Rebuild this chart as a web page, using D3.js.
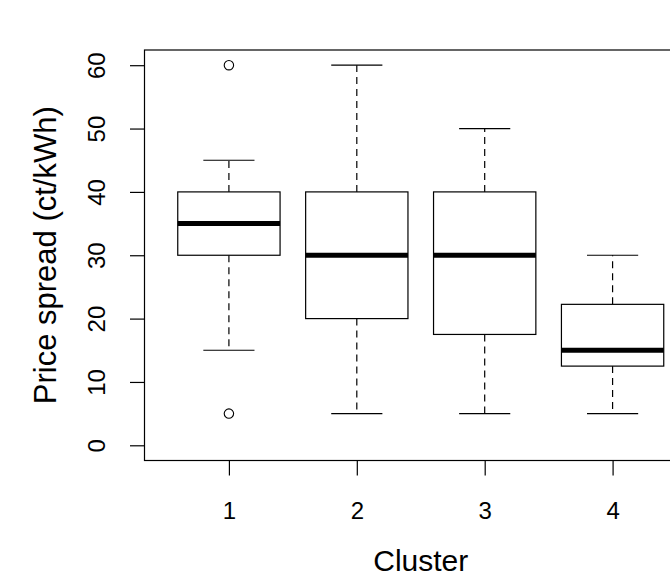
<!DOCTYPE html>
<html>
<head>
<meta charset="utf-8">
<script src="https://cdn.jsdelivr.net/npm/d3@7"></script>
<style>
  html, body { margin: 0; padding: 0; background: #fff; }
  svg { display: block; }
  text { font-family: "Liberation Sans", Arial, sans-serif; fill: #000; }
</style>
</head>
<body>
<svg id="chart" width="670" height="576"></svg>
<script>
// ---- data ----
const categories = ["1", "2", "3", "4"];
const whiskerLow  = [15, 5, 5, 5];
const q1          = [30, 20, 17.5, 12.5];
const medians     = [35, 30, 30, 15];
const q3          = [40, 40, 40, 22.25];
const whiskerHigh = [45, 60, 50, 30];
const outliers    = [[60, 5], [], [], []];
const yTicks      = [0, 10, 20, 30, 40, 50, 60];
const xTitle = "Cluster";
const yTitle = "Price spread (ct/kWh)";

// ---- layout ----
const svg = d3.select("#chart");
const plot = { left: 144.5, right: 697, top: 50, bottom: 460.5 };

const x = d3.scaleLinear().domain([0.5 - 0.16, 4.5 + 0.16]).range([plot.left, plot.right]);
const y = d3.scaleLinear().domain([-2.4, 62.4]).range([plot.bottom, plot.top]);
const boxHalf = 0.4 * (x(2) - x(1));
const capHalf = boxHalf / 2;

const g = svg.append("g");

// frame
g.append("rect")
  .attr("x", plot.left).attr("y", plot.top)
  .attr("width", plot.right - plot.left).attr("height", plot.bottom - plot.top)
  .attr("fill", "none").attr("stroke", "#000").attr("stroke-width", 1.2);

// y axis
const yAxis = d3.axisLeft(y).tickValues(yTicks).tickSize(14.5).tickFormat(d3.format("d"));
const ya = g.append("g").attr("transform", `translate(${plot.left},0)`).call(yAxis);
ya.select(".domain").remove();
ya.selectAll(".tick line").attr("stroke", "#000").attr("stroke-width", 1.2);
ya.selectAll(".tick text")
  .attr("x", 0).attr("y", 0).attr("dy", 0)
  .attr("transform", "translate(-40,0) rotate(-90)")
  .attr("text-anchor", "middle")
  .style("font-size", "24px")
  .style("font-family", "'Liberation Sans', Arial, sans-serif")
  .attr("fill", "#000");

// x axis
const xAxis = d3.axisBottom(x).tickValues([1, 2, 3, 4]).tickSize(15).tickFormat((d) => categories[d - 1]);
const xa = g.append("g").attr("transform", `translate(0,${plot.bottom})`).call(xAxis);
xa.select(".domain").remove();
xa.selectAll(".tick line").attr("stroke", "#000").attr("stroke-width", 1.2);
xa.selectAll(".tick text")
  .attr("y", 58).attr("dy", 0)
  .style("font-size", "24px")
  .style("font-family", "'Liberation Sans', Arial, sans-serif")
  .attr("fill", "#000");

// boxes
const idx = d3.range(categories.length);
const boxes = g.append("g").selectAll("g").data(idx).join("g");

boxes.append("line") // upper whisker
  .attr("x1", (i) => x(i + 1)).attr("x2", (i) => x(i + 1))
  .attr("y1", (i) => y(q3[i])).attr("y2", (i) => y(whiskerHigh[i]))
  .attr("stroke", "#000").attr("stroke-width", 1.2).attr("stroke-dasharray", "7,5");
boxes.append("line") // lower whisker
  .attr("x1", (i) => x(i + 1)).attr("x2", (i) => x(i + 1))
  .attr("y1", (i) => y(q1[i])).attr("y2", (i) => y(whiskerLow[i]))
  .attr("stroke", "#000").attr("stroke-width", 1.2).attr("stroke-dasharray", "7,5");
boxes.append("line") // upper cap
  .attr("x1", (i) => x(i + 1) - capHalf).attr("x2", (i) => x(i + 1) + capHalf)
  .attr("y1", (i) => y(whiskerHigh[i])).attr("y2", (i) => y(whiskerHigh[i]))
  .attr("stroke", "#000").attr("stroke-width", 1.2);
boxes.append("line") // lower cap
  .attr("x1", (i) => x(i + 1) - capHalf).attr("x2", (i) => x(i + 1) + capHalf)
  .attr("y1", (i) => y(whiskerLow[i])).attr("y2", (i) => y(whiskerLow[i]))
  .attr("stroke", "#000").attr("stroke-width", 1.2);
boxes.append("rect")
  .attr("x", (i) => x(i + 1) - boxHalf).attr("width", 2 * boxHalf)
  .attr("y", (i) => y(q3[i])).attr("height", (i) => y(q1[i]) - y(q3[i]))
  .attr("fill", "#fff").attr("stroke", "#000").attr("stroke-width", 1.2);
boxes.append("line") // median
  .attr("x1", (i) => x(i + 1) - boxHalf).attr("x2", (i) => x(i + 1) + boxHalf)
  .attr("y1", (i) => y(medians[i])).attr("y2", (i) => y(medians[i]))
  .attr("stroke", "#000").attr("stroke-width", 5);

// outliers
const outPts = idx.flatMap((i) => outliers[i].map((v) => ({ i, v })));
g.append("g").selectAll("circle").data(outPts).join("circle")
  .attr("cx", (d) => x(d.i + 1)).attr("cy", (d) => y(d.v)).attr("r", 4.7)
  .attr("fill", "none").attr("stroke", "#000").attr("stroke-width", 1.1);

// titles
svg.append("text")
  .attr("x", (plot.left + plot.right) / 2).attr("y", 571)
  .attr("text-anchor", "middle").style("font-size", "30px")
  .text(xTitle);
svg.append("text")
  .attr("transform", `translate(56,${(plot.top + plot.bottom) / 2}) rotate(-90)`)
  .attr("text-anchor", "middle").style("font-size", "31px")
  .text(yTitle);
</script>
</body>
</html>
